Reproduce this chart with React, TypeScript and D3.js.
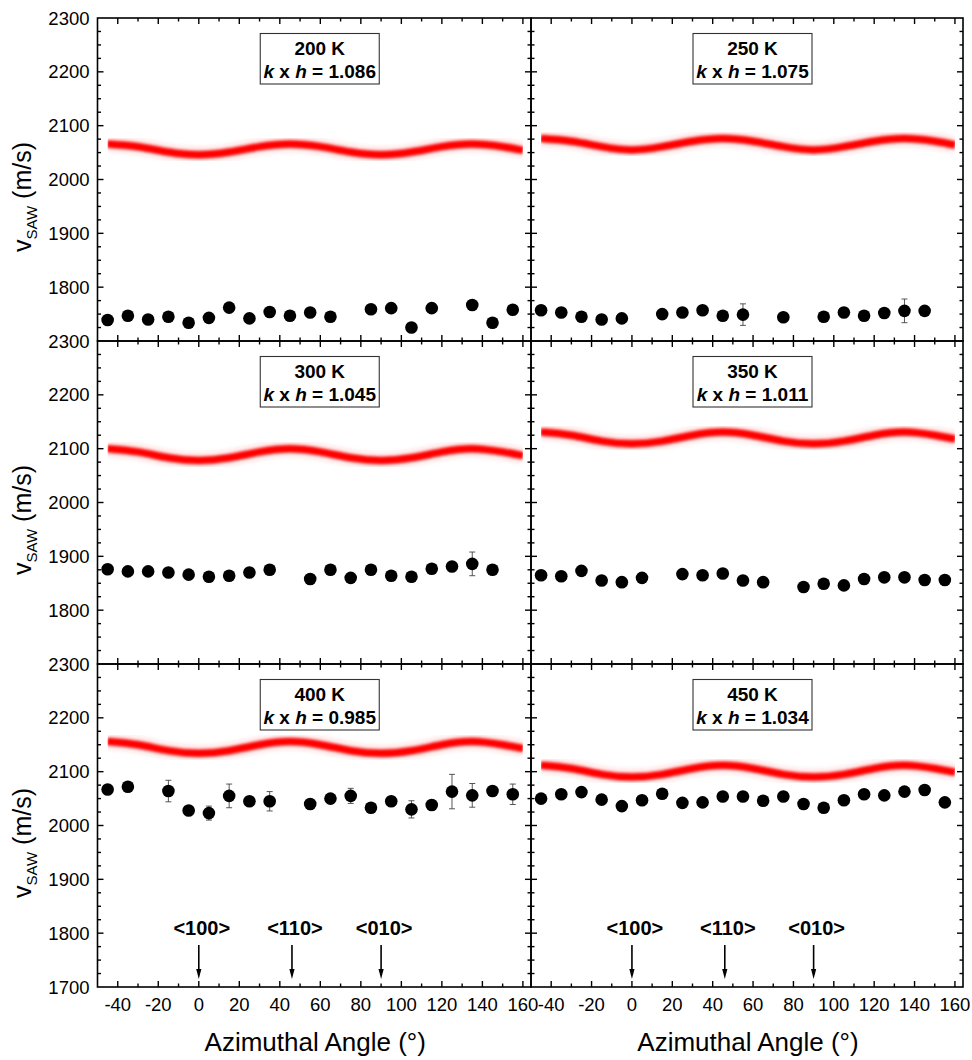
import React, { useRef, useEffect } from "react";
import * as d3 from "d3";

// measured angles (deg)
const angles = [-45, -35, -25, -15, -5, 5, 15, 25, 35, 45, 55, 65, 75, 85, 95, 105, 115, 125, 135, 145, 155];
// angles where the fitted curve was read
const fitAngles = [-45, -30, -15, 0, 15, 30, 45, 60, 75, 90, 105, 120, 135, 150, 160];

const temps = ["200 K", "250 K", "300 K", "350 K", "400 K", "450 K"];
const khValues = ["1.086", "1.075", "1.045", "1.011", "0.985", "1.034"];

const v200 = [1739, 1747, 1740, 1745, 1734, 1743, 1762, 1742, 1754, 1747, 1753, 1745, null, 1759, 1761, 1725, 1761, null, 1767, 1734, 1758];
const v250 = [1757, 1753, 1745, 1740, 1742, null, 1750, 1753, 1757, 1747, 1749, null, 1744, null, 1745, 1753, 1747, 1752, 1756, 1756, null];
const v300 = [1876, 1872, 1872, 1870, 1866, 1862, 1864, 1870, 1875, null, 1858, 1875, 1860, 1875, 1864, 1862, 1877, 1881, 1886, 1875, null];
const v350 = [1865, 1863, 1873, 1855, 1852, 1860, null, 1867, 1865, 1868, 1855, 1852, null, 1843, 1849, 1846, 1858, 1861, 1861, 1856, 1856];
const v400 = [2067, 2072, null, 2064, 2028, 2023, 2055, 2045, 2045, null, 2040, 2050, 2055, 2033, 2045, 2030, 2038, 2063, 2056, 2064, 2058];
const v450 = [2050, 2058, 2062, 2048, 2036, 2047, 2059, 2042, 2043, 2054, 2054, 2046, 2054, 2040, 2033, 2047, 2058, 2056, 2063, 2066, 2043];

const err200 = [0, 0, 0, 0, 0, 0, 0, 0, 0, 0, 0, 0, 0, 0, 0, 0, 0, 0, 0, 0, 0];
const err250 = [0, 0, 0, 0, 0, 0, 0, 0, 0, 0, 20, 0, 0, 0, 0, 0, 0, 0, 22, 0, 0];
const err300 = [0, 0, 0, 0, 0, 0, 0, 0, 0, 0, 0, 0, 0, 0, 0, 0, 0, 0, 22, 0, 0];
const err350 = [0, 0, 0, 0, 0, 0, 0, 0, 0, 0, 0, 0, 0, 0, 0, 0, 0, 0, 0, 0, 0];
const err400 = [0, 0, 0, 20, 0, 13, 22, 7, 18, 0, 0, 5, 14, 0, 8, 16, 9, 32, 22, 0, 19];
const err450 = [0, 0, 0, 0, 0, 0, 0, 0, 0, 0, 0, 0, 0, 0, 0, 0, 0, 0, 0, 0, 0];

const fit200 = [2066, 2061, 2051, 2046, 2051, 2061, 2066, 2061, 2051, 2046, 2051, 2061, 2066, 2061, 2054];
const fit250 = [2076, 2071, 2061, 2055, 2061, 2071, 2076, 2071, 2061, 2055, 2061, 2071, 2076, 2071, 2064];
const fit300 = [2100, 2094, 2083, 2078, 2083, 2094, 2100, 2094, 2083, 2078, 2083, 2094, 2100, 2094, 2087];
const fit350 = [2131, 2125, 2114, 2109, 2114, 2125, 2131, 2125, 2114, 2109, 2114, 2125, 2131, 2125, 2118];
const fit400 = [2156, 2150, 2139, 2134, 2139, 2150, 2156, 2150, 2139, 2134, 2139, 2150, 2156, 2150, 2143];
const fit450 = [2112, 2106, 2095, 2090, 2095, 2106, 2112, 2106, 2095, 2090, 2095, 2106, 2112, 2106, 2099];

const dirAngles = [0, 46, 90];
const dirLabels = ["<100>", "<110>", "<010>"];

const speeds = [v200, v250, v300, v350, v400, v450];
const errors = [err200, err250, err300, err350, err400, err450];
const fits = [fit200, fit250, fit300, fit350, fit400, fit450];

const FONT = "'Liberation Sans', Arial, Helvetica, sans-serif";
const colX = [[97.5, 531], [531, 963]];
const rowY = [[18, 341], [341, 664], [664, 987]];

export default function App() {
  const ref = useRef<SVGSVGElement>(null);

  useEffect(() => {
    const svg = d3.select(ref.current);
    svg.selectAll("*").remove();
    svg.append("rect").attr("width", 972).attr("height", 1060).attr("fill", "#fff");

    const defs = svg.append("defs");
    defs.append("filter").attr("id", "soft").attr("x", "-10%").attr("y", "-50%").attr("width", "120%").attr("height", "200%")
      .append("feGaussianBlur").attr("stdDeviation", 1.1);
    defs.append("filter").attr("id", "halo").attr("x", "-10%").attr("y", "-50%").attr("width", "120%").attr("height", "200%")
      .append("feGaussianBlur").attr("stdDeviation", 2.5);

    const xMajor = d3.range(-40, 161, 20);
    const xMinor = d3.range(-30, 151, 20);
    const yMajor = d3.range(1700, 2301, 100);
    const yMinor = d3.range(1725, 2300, 25).filter(v => v % 100 !== 0);

    temps.forEach((temp, i) => {
      const col = i % 2;
      const row = Math.floor(i / 2);
      const [x0, x1] = colX[col];
      const [y0, y1] = rowY[row];
      const x = d3.scaleLinear().domain([-50, 164]).range([x0, x1]);
      const y = d3.scaleLinear().domain([1700, 2300]).range([y1, y0]);
      const g = svg.append("g");

      // fitted curve as a soft red band
      const line = d3.line<number>()
        .x((d, j) => x(fitAngles[j]))
        .y(d => y(d))
        .curve(d3.curveNatural);
      const clipId = `band${i}`;
      defs.append("clipPath").attr("id", clipId)
        .append("rect")
        .attr("x", x(fitAngles[0])).attr("y", y0)
        .attr("width", x(fitAngles[fitAngles.length - 1]) - x(fitAngles[0]))
        .attr("height", y1 - y0);
      const band = g.append("g").attr("clip-path", `url(#${clipId})`);
      band.append("path")
        .attr("d", line(fits[i]))
        .attr("fill", "none")
        .attr("stroke", "#ff3030")
        .attr("stroke-opacity", 0.22)
        .attr("stroke-width", 13)
        .attr("filter", "url(#halo)");
      band.append("path")
        .attr("d", line(fits[i]))
        .attr("fill", "none")
        .attr("stroke", "#ff0000")
        .attr("stroke-opacity", 0.3)
        .attr("stroke-width", 9.5)
        .attr("filter", "url(#soft)");
      band.append("path")
        .attr("d", line(fits[i]))
        .attr("fill", "none")
        .attr("stroke", "#ff0000")
        .attr("stroke-width", 6.5)
        .attr("filter", "url(#soft)");

      // measured points
      const pts = angles
        .map((a, j) => ({ a, v: speeds[i][j], e: errors[i][j] }))
        .filter(d => d.v !== null) as { a: number; v: number; e: number }[];

      const eb = g.append("g").attr("stroke", "#444").attr("stroke-width", 0.9);
      pts.filter(d => d.e > 0).forEach(d => {
        const cx = x(d.a);
        eb.append("line").attr("x1", cx).attr("x2", cx).attr("y1", y(d.v - d.e)).attr("y2", y(d.v + d.e));
        eb.append("line").attr("x1", cx - 3).attr("x2", cx + 3).attr("y1", y(d.v - d.e)).attr("y2", y(d.v - d.e));
        eb.append("line").attr("x1", cx - 3).attr("x2", cx + 3).attr("y1", y(d.v + d.e)).attr("y2", y(d.v + d.e));
      });

      g.append("g")
        .selectAll("circle")
        .data(pts)
        .enter()
        .append("circle")
        .attr("cx", d => x(d.a))
        .attr("cy", d => y(d.v))
        .attr("r", 6.3)
        .attr("fill", "#000");

      // frame
      g.append("rect")
        .attr("x", x0).attr("y", y0)
        .attr("width", x1 - x0).attr("height", y1 - y0)
        .attr("fill", "none").attr("stroke", "#000").attr("stroke-width", 1.6);

      // inward ticks on all sides
      const tk = g.append("g").attr("stroke", "#000").attr("stroke-width", 1.4);
      const xt = (vals: number[], len: number) => vals.forEach(v => {
        tk.append("line").attr("x1", x(v)).attr("x2", x(v)).attr("y1", y0).attr("y2", y0 + len);
        tk.append("line").attr("x1", x(v)).attr("x2", x(v)).attr("y1", y1).attr("y2", y1 - len);
      });
      const yt = (vals: number[], len: number) => vals.forEach(v => {
        tk.append("line").attr("y1", y(v)).attr("y2", y(v)).attr("x1", x0).attr("x2", x0 + len);
        tk.append("line").attr("y1", y(v)).attr("y2", y(v)).attr("x1", x1).attr("x2", x1 - len);
      });
      xt(xMajor, 6);
      xt(xMinor, 3.5);
      yt(yMajor.filter(v => v > 1700 && v < 2300), 6);
      yt(yMinor, 3.5);

      // y tick labels (left column)
      if (col === 0) {
        const labs = row === 2 ? yMajor : yMajor.filter(v => v > 1700);
        g.append("g")
          .selectAll("text")
          .data(labs)
          .enter()
          .append("text")
          .attr("x", x0 - 8)
          .attr("y", d => y(d) + 6.5)
          .attr("text-anchor", "end")
          .style("font-family", FONT)
          .style("font-size", "18.5px")
          .text(d => d);

        const yl = g.append("text")
          .attr("transform", `translate(31,${y0 + 179}) rotate(-90)`)
          .attr("text-anchor", "middle")
          .style("font-family", FONT)
          .style("font-size", "25px");
        yl.append("tspan").text("v");
        yl.append("tspan").attr("dy", 6).style("font-size", "15px").text("SAW");
        yl.append("tspan").attr("dy", -6).text(" (m/s)");
      }

      // x tick labels and title (bottom row)
      if (row === 2) {
        g.append("g")
          .selectAll("text")
          .data(xMajor)
          .enter()
          .append("text")
          .attr("x", d => x(d))
          .attr("y", 1010.5)
          .attr("text-anchor", "middle")
          .style("font-family", FONT)
          .style("font-size", "18.5px")
          .text(d => d);

        g.append("text")
          .attr("x", (x0 + x1) / 2 + 1)
          .attr("y", 1051)
          .attr("text-anchor", "middle")
          .style("font-family", FONT)
          .style("font-size", "26px")
          .text("Azimuthal Angle (°)");

        // crystal direction arrows
        dirAngles.forEach((a, j) => {
          const ax = x(a);
          g.append("text")
            .attr("x", ax + 3)
            .attr("y", 935)
            .attr("text-anchor", "middle")
            .style("font-family", FONT)
            .style("font-size", "20px")
            .style("font-weight", 700)
            .text(dirLabels[j]);
          g.append("line")
            .attr("x1", ax).attr("x2", ax).attr("y1", 945).attr("y2", 971)
            .attr("stroke", "#000").attr("stroke-width", 1.6);
          g.append("path")
            .attr("d", `M${ax - 2.6},${969} L${ax + 2.6},${969} L${ax},${979} Z`)
            .attr("fill", "#000");
        });
      }

      // temperature / k x h box
      const cx = (x0 + x1) / 2 + 5.5;
      g.append("rect")
        .attr("x", cx - 59.5).attr("y", y0 + 15.5)
        .attr("width", 119).attr("height", 50.5)
        .attr("fill", "#fff").attr("stroke", "#333").attr("stroke-width", 1.1);
      g.append("text")
        .attr("x", cx).attr("y", y0 + 37)
        .attr("text-anchor", "middle")
        .style("font-family", FONT).style("font-size", "19px").style("font-weight", 700)
        .text(temp);
      const kt = g.append("text")
        .attr("x", cx).attr("y", y0 + 60)
        .attr("text-anchor", "middle")
        .style("font-family", FONT).style("font-size", "19px").style("font-weight", 700);
      kt.append("tspan").style("font-style", "italic").text("k");
      kt.append("tspan").text(" x ");
      kt.append("tspan").style("font-style", "italic").text("h");
      kt.append("tspan").text(" = " + khValues[i]);
    });
  }, []);

  return (
    <div style={{ position: "absolute", left: 0, top: 0 }}>
      <svg ref={ref} width={972} height={1060} style={{ display: "block" }}></svg>
    </div>
  );
}
